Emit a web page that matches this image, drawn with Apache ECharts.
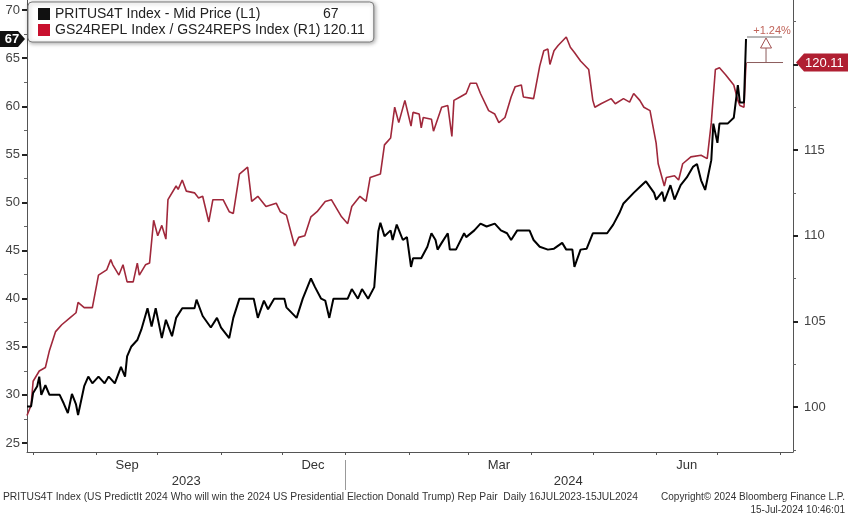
<!DOCTYPE html>
<html><head><meta charset="utf-8">
<script src="https://cdn.jsdelivr.net/npm/echarts@6/dist/echarts.min.js"></script>
<style>html,body{margin:0;padding:0;background:#fff}#c{width:848px;height:520px}</style>
</head><body><div id="c"></div>
<script>
// ---------- data ----------
const seriesNames = ['PRITUS4T Index - Mid Price (L1)', 'GS24REPL Index / GS24REPS Index (R1)'];
const lastValueLabels = ['67', '120.11'];

const blackDates = ['2023-07-29','2023-07-31','2023-08-01','2023-08-03','2023-08-04','2023-08-05','2023-08-07','2023-08-09','2023-08-14','2023-08-16',
'2023-08-18','2023-08-20','2023-08-22','2023-08-23','2023-08-26','2023-08-28','2023-08-30','2023-09-02','2023-09-05','2023-09-07',
'2023-09-10','2023-09-13','2023-09-15','2023-09-16','2023-09-18','2023-09-21','2023-09-23','2023-09-26','2023-09-28','2023-09-30',
'2023-10-03','2023-10-05','2023-10-08','2023-10-10','2023-10-13','2023-10-19','2023-10-20','2023-10-23','2023-10-27','2023-10-30',
'2023-11-01','2023-11-05','2023-11-07','2023-11-10','2023-11-17','2023-11-19','2023-11-22','2023-11-24','2023-11-27','2023-12-02',
'2023-12-03','2023-12-08','2023-12-11','2023-12-15','2023-12-17','2023-12-20','2023-12-22','2023-12-24','2023-12-26','2024-01-02',
'2024-01-04','2024-01-07','2024-01-09','2024-01-12','2024-01-15','2024-01-17','2024-01-18','2024-01-20','2024-01-23','2024-01-24',
'2024-01-26','2024-01-29','2024-01-31','2024-02-02','2024-02-03','2024-02-07','2024-02-10','2024-02-12','2024-02-14','2024-02-15',
'2024-02-17','2024-02-20','2024-02-21','2024-02-24','2024-02-28','2024-02-29','2024-03-04','2024-03-07','2024-03-10','2024-03-14',
'2024-03-17','2024-03-20','2024-03-22','2024-03-25','2024-03-31','2024-04-02','2024-04-05','2024-04-09','2024-04-12','2024-04-16',
'2024-04-18','2024-04-21','2024-04-22','2024-04-25','2024-04-28','2024-05-01','2024-05-08','2024-05-11','2024-05-14','2024-05-16',
'2024-05-21','2024-05-24','2024-05-27','2024-05-31','2024-06-01','2024-06-04','2024-06-05','2024-06-08','2024-06-10','2024-06-13',
'2024-06-16','2024-06-19','2024-06-21','2024-06-23','2024-06-25','2024-06-28','2024-06-29','2024-07-01','2024-07-02','2024-07-06',
'2024-07-09','2024-07-11','2024-07-12','2024-07-14','2024-07-15'];
const blackValues = [28.8,28.8,30.2,30.9,31.9,30.0,31.0,30.0,30.0,29.1,
28.1,30.1,29.0,27.9,30.9,31.9,31.2,31.9,31.2,31.9,
31.2,32.9,31.9,34.0,35.0,35.7,36.8,39.0,37.1,39.0,
35.9,37.8,36.1,38.0,39.0,39.0,39.9,38.2,37.0,38.0,
37.0,35.9,38.0,40.0,40.0,38.0,39.8,38.9,40.0,40.0,
39.1,38.0,40.0,42.1,41.2,40.0,39.8,38.0,40.0,40.0,
41.0,40.0,41.0,40.0,41.2,47.0,47.9,46.5,47.1,46.1,
47.7,46.1,46.4,43.3,44.2,44.2,45.4,46.8,46.1,45.1,
45.8,46.8,45.1,45.1,46.8,46.4,47.1,47.8,47.5,47.8,
47.1,46.8,46.1,47.1,47.1,46.1,45.4,45.1,45.2,45.8,
45.1,45.1,43.3,45.1,45.2,46.8,46.8,47.7,48.9,49.9,
51.0,51.6,52.2,51.0,50.3,51.1,50.1,51.8,50.3,51.8,
52.6,53.7,54.0,52.3,51.3,54.4,58.2,56.2,58.2,58.2,
58.8,62.2,60.4,60.4,67];

const redDates = ['2023-07-29','2023-07-31','2023-08-01','2023-08-04','2023-08-07','2023-08-09','2023-08-12','2023-08-15','2023-08-19','2023-08-22',
'2023-08-23','2023-08-26','2023-08-30','2023-09-02','2023-09-06','2023-09-08','2023-09-09','2023-09-12','2023-09-14','2023-09-16',
'2023-09-19','2023-09-21','2023-09-22','2023-09-25','2023-09-27','2023-09-29','2023-10-01','2023-10-03','2023-10-05','2023-10-06',
'2023-10-10','2023-10-11','2023-10-13','2023-10-15','2023-10-19','2023-10-21','2023-10-23','2023-10-26','2023-10-28','2023-11-02',
'2023-11-05','2023-11-07','2023-11-10','2023-11-14','2023-11-16','2023-11-19','2023-11-23','2023-11-28','2023-11-30','2023-12-03',
'2023-12-07','2023-12-09','2023-12-12','2023-12-15','2023-12-18','2023-12-22','2023-12-25','2023-12-30','2024-01-02','2024-01-04',
'2024-01-08','2024-01-11','2024-01-13','2024-01-18','2024-01-20','2024-01-23','2024-01-25','2024-01-27','2024-01-30','2024-02-02',
'2024-02-03','2024-02-06','2024-02-07','2024-02-08','2024-02-12','2024-02-13','2024-02-17','2024-02-20','2024-02-22','2024-02-23',
'2024-02-26','2024-02-29','2024-03-02','2024-03-05','2024-03-07','2024-03-11','2024-03-14','2024-03-16','2024-03-19','2024-03-22',
'2024-03-24','2024-03-27','2024-03-28','2024-04-02','2024-04-05','2024-04-07','2024-04-09','2024-04-10','2024-04-12','2024-04-14',
'2024-04-18','2024-04-20','2024-04-22','2024-04-25','2024-04-29','2024-05-01','2024-05-02','2024-05-05','2024-05-10','2024-05-12',
'2024-05-16','2024-05-19','2024-05-21','2024-05-24','2024-05-26','2024-05-29','2024-06-01','2024-06-02','2024-06-05','2024-06-06',
'2024-06-10','2024-06-12','2024-06-14','2024-06-18','2024-06-23','2024-06-26','2024-06-28','2024-06-30','2024-07-02','2024-07-05',
'2024-07-09','2024-07-11','2024-07-12','2024-07-14','2024-07-15'];
const redValues = [99.5,100.1,101.5,102.1,102.3,103.3,104.4,104.8,105.2,105.5,
106.1,105.8,105.8,107.7,108.0,108.6,108.3,107.7,108.3,107.3,
107.3,108.4,107.7,108.3,108.4,110.9,110.0,110.6,109.8,112.1,
112.9,112.7,113.25,112.6,112.5,112.2,112.3,110.8,112.1,112.1,
111.4,111.3,113.6,114.0,112.0,112.3,111.7,111.9,111.4,111.2,
109.4,109.9,110.0,111.1,111.4,112.0,112.1,111.1,110.7,111.7,
112.3,112.0,113.4,113.6,115.3,115.7,117.5,116.6,117.9,116.4,
117.2,117.1,116.3,116.9,116.8,116.1,117.5,117.6,115.8,117.9,
118.1,118.3,118.9,118.9,118.3,117.3,117.1,116.6,116.9,118.1,
118.7,118.8,118.1,118.0,119.9,120.8,120.9,120.0,120.8,121.1,
121.6,121.0,120.7,120.2,119.7,117.9,117.5,117.7,118.0,117.7,
118.0,117.8,118.3,117.9,117.5,117.3,115.4,114.2,112.9,113.4,
113.5,113.25,114.2,114.6,114.7,114.5,116.6,119.7,119.8,119.4,
118.8,117.9,117.6,117.5,120.11];

const leftTickLabels = [25,30,35,40,45,50,55,60,65,70];
const rightTickLabels = [100,105,110,115,120];
const monthTickDates = ['2023-08-01','2023-09-01','2023-10-01','2023-11-01','2023-12-01','2024-01-01','2024-02-01','2024-03-01','2024-04-01','2024-05-01','2024-06-01','2024-07-01','2024-08-01'];
const monthLabels = ['Sep','Dec','Mar','Jun'];
const monthLabelDates = ['2023-09-16','2023-12-16','2024-03-16','2024-06-16'];
const yearLabels = ['2023','2024'];
const yearLabelDates = ['2023-10-15','2024-04-19'];
const yearDividerDate = '2024-01-01';
const deltaPct = 1.24;
const footerLeft = 'PRITUS4T Index (US PredictIt 2024 Who will win the 2024 US Presidential Election Donald Trump) Rep Pair  Daily 16JUL2023-15JUL2024';
const footerRight1 = 'Copyright\u00A9 2024 Bloomberg Finance L.P.';
const footerRight2 = '15-Jul-2024 10:46:01';

// ---------- helpers ----------
function toTs(s){ const p = s.split('-').map(Number); return Date.UTC(p[0], p[1]-1, p[2]); }
function pickLabel(v, dates, labels){
  for (let i = 0; i < dates.length; i++) if (Math.abs(toTs(dates[i]) - v) < 43200000) return labels[i];
  return '';
}
const FONT = 'Liberation Sans, Arial, sans-serif';
const X_MIN = toTs('2023-07-29'), X_MAX = toTs('2024-08-07');
const L_MIN = 24.06, L_MAX = 71.05, R_MIN = 97.37, R_MAX = 123.76;
const leftMinor = leftTickLabels.map(v => v + 2.5).filter(v => v < L_MAX);
const rightMinor = [97.5].concat(rightTickLabels.map(v => v + 2.5)).filter(v => v < R_MAX);

const chart = echarts.init(document.getElementById('c'), null, {renderer: 'canvas'});

const option = {
  animation: false,
  backgroundColor: '#fff',
  textStyle: {fontFamily: FONT},
  grid: {left: 27, right: 55, top: 0, bottom: 68},
  legend: {
    left: 28, top: 2, orient: 'vertical', icon: 'rect',
    itemWidth: 12, itemHeight: 12, itemGap: 2,
    padding: [5, 9, 5, 10],
    backgroundColor: '#fff', borderColor: '#7a7a7a', borderWidth: 1, borderRadius: 4,
    shadowBlur: 4, shadowColor: 'rgba(0,0,0,0.35)', shadowOffsetX: 1, shadowOffsetY: 1,
    data: [
      {name: seriesNames[0], itemStyle: {color: '#111'}},
      {name: seriesNames[1], itemStyle: {color: '#c8102e'}}
    ],
    formatter: function(name){ const i = seriesNames.indexOf(name); return '{n|' + name + '}{v|' + lastValueLabels[i] + '}'; },
    textStyle: {
      fontFamily: FONT, fontSize: 14, color: '#222',
      rich: {
        n: {width: 268, fontFamily: FONT, fontSize: 14, color: '#222'},
        v: {width: 44, fontFamily: FONT, fontSize: 14, color: '#222'}
      }
    }
  },
  xAxis: [
    {
      type: 'value', min: X_MIN, max: X_MAX, position: 'bottom',
      axisLine: {show: true, lineStyle: {color: '#555', width: 1}},
      axisTick: {show: true, customValues: monthTickDates.map(toTs), length: 3, lineStyle: {color: '#555'}},
      axisLabel: {
        customValues: monthLabelDates.map(toTs), margin: 7,
        formatter: v => pickLabel(v, monthLabelDates, monthLabels),
        color: '#333', fontSize: 13, fontFamily: FONT
      },
      splitLine: {show: false}
    },
    {
      type: 'value', min: X_MIN, max: X_MAX, position: 'bottom', offset: 8,
      axisLine: {show: false},
      axisTick: {show: true, customValues: [toTs(yearDividerDate)], length: 30, lineStyle: {color: '#999'}},
      axisLabel: {
        customValues: yearLabelDates.map(toTs), margin: 15,
        formatter: v => pickLabel(v, yearLabelDates, yearLabels),
        color: '#333', fontSize: 13, fontFamily: FONT
      },
      splitLine: {show: false}
    }
  ],
  yAxis: [
    {
      type: 'value', position: 'left', min: L_MIN, max: L_MAX,
      axisLine: {show: true, lineStyle: {color: '#555', width: 1}},
      axisTick: {show: true, customValues: leftTickLabels, length: 5, lineStyle: {color: '#222', width: 2}},
      axisLabel: {customValues: leftTickLabels, color: '#444', fontSize: 13, fontFamily: FONT, margin: 7},
      splitLine: {show: false}
    },
    {
      type: 'value', position: 'right', min: R_MIN, max: R_MAX,
      axisLine: {show: true, lineStyle: {color: '#555', width: 1}},
      axisTick: {show: true, customValues: rightTickLabels, length: 5, lineStyle: {color: '#222', width: 2}},
      axisLabel: {customValues: rightTickLabels, color: '#444', fontSize: 13, fontFamily: FONT, margin: 11},
      splitLine: {show: false}
    },
    {
      type: 'value', position: 'left', min: L_MIN, max: L_MAX,
      axisLine: {show: false},
      axisTick: {show: true, customValues: leftMinor, length: 3, lineStyle: {color: '#666'}},
      axisLabel: {show: false}, splitLine: {show: false}
    },
    {
      type: 'value', position: 'right', min: R_MIN, max: R_MAX,
      axisLine: {show: false},
      axisTick: {show: true, customValues: rightMinor, length: 3, lineStyle: {color: '#666'}},
      axisLabel: {show: false}, splitLine: {show: false}
    }
  ],
  series: [
    {
      name: seriesNames[0], type: 'line', yAxisIndex: 0, xAxisIndex: 0, z: 3,
      data: blackDates.map((d, i) => [toTs(d), blackValues[i]]),
      showSymbol: false, symbol: 'none',
      lineStyle: {color: '#000', width: 2}, itemStyle: {color: '#000'}
    },
    {
      name: seriesNames[1], type: 'line', yAxisIndex: 1, xAxisIndex: 0, z: 2,
      data: redDates.map((d, i) => [toTs(d), redValues[i]]),
      showSymbol: false, symbol: 'none',
      lineStyle: {color: '#a0283b', width: 1.6}, itemStyle: {color: '#a0283b'}
    }
  ]
};
chart.setOption(option);

// ---------- annotations positioned through the axes ----------
const lastBlack = blackValues[blackValues.length - 1];
const lastRed = redValues[redValues.length - 1];
const yL = chart.convertToPixel({yAxisIndex: 0}, lastBlack);
const yR = chart.convertToPixel({yAxisIndex: 1}, lastRed);
const yTop = chart.convertToPixel({yAxisIndex: 1}, lastRed * (1 + deltaPct / 100));
const xEnd = chart.convertToPixel({xAxisIndex: 0}, toTs(redDates[redDates.length - 1]));
const xLeft = chart.convertToPixel({xAxisIndex: 0}, X_MIN);
const xRight = chart.convertToPixel({xAxisIndex: 0}, X_MAX);
const W = chart.getWidth();

chart.setOption({
  graphic: [
    {type: 'polygon', z: 100, shape: {points: [[0, yL - 8], [xLeft - 9, yL - 8], [xLeft - 2, yL], [xLeft - 9, yL + 8], [0, yL + 8]]}, style: {fill: '#111'}},
    {type: 'text', z: 101, x: 12, y: yL, style: {text: lastValueLabels[0], fill: '#fff', font: 'bold 13px ' + FONT, align: 'center', verticalAlign: 'middle'}},
    {type: 'polygon', z: 100, shape: {points: [[xRight + 3, yR], [xRight + 11, yR - 9], [W, yR - 9], [W, yR + 9], [xRight + 11, yR + 9]]}, style: {fill: '#b01f32'}},
    {type: 'text', z: 101, x: xRight + 12, y: yR + 1, style: {text: lastValueLabels[1], fill: '#fff', font: '13px ' + FONT, align: 'left', verticalAlign: 'middle'}},
    {type: 'line', z: 90, shape: {x1: xEnd + 1, y1: yTop, x2: xEnd + 36, y2: yTop}, style: {stroke: '#6e6e6e', lineWidth: 1}},
    {type: 'line', z: 90, shape: {x1: xEnd + 1, y1: yR, x2: xEnd + 37, y2: yR}, style: {stroke: '#8c5c5c', lineWidth: 1}},
    {type: 'line', z: 90, shape: {x1: xEnd + 20, y1: yTop + 11, x2: xEnd + 20, y2: yR}, style: {stroke: '#8c5c5c', lineWidth: 1}},
    {type: 'polygon', z: 91, shape: {points: [[xEnd + 20, yTop + 1], [xEnd + 14.5, yTop + 11], [xEnd + 25.5, yTop + 11]]}, style: {fill: '#fff', stroke: '#a05050', lineWidth: 1}},
    {type: 'text', z: 92, x: xEnd + 26, y: yTop - 6, style: {text: '+' + deltaPct.toFixed(2) + '%', fill: '#c0645a', font: '11px ' + FONT, align: 'center', verticalAlign: 'middle'}},
    {type: 'text', z: 50, left: 3, top: 492, style: {text: footerLeft, fill: '#333', font: '10.3px ' + FONT}},
    {type: 'text', z: 50, right: 3, top: 492, style: {text: footerRight1, fill: '#333', font: '10px ' + FONT}},
    {type: 'text', z: 50, right: 3, top: 505, style: {text: footerRight2, fill: '#333', font: '10px ' + FONT}}
  ]
});
</script>
</body></html>
